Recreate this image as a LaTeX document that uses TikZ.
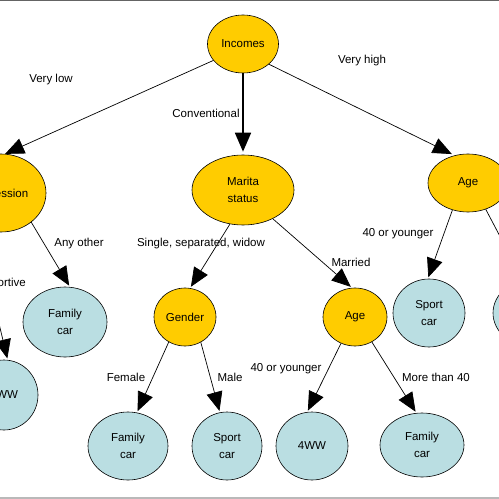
\documentclass[tikz,border=0pt]{standalone}
\usepackage{fontspec}
\setmainfont{Liberation Sans}
\usetikzlibrary{shapes.geometric,arrows.meta}
\definecolor{decision}{RGB}{255,204,0}
\definecolor{leafblue}{RGB}{186,222,226}
\definecolor{frametop}{RGB}{100,100,100}
\definecolor{framebot}{RGB}{185,185,185}
\begin{document}
\begin{tikzpicture}[x=1bp,y=-1bp,
  font=\fontsize{11.5bp}{17bp}\selectfont,
  base/.style={ellipse,draw=black,line width=0.6bp,inner sep=0pt,align=center},
  test/.style={base,fill=decision},
  leaf/.style={base,fill=leafblue},
  branch/.style={draw=black,line width=0.7bp,-{Triangle[length=19bp,width=16bp]},shorten >=1.5bp},
  lbl/.style={anchor=base,inner sep=0pt}]
\useasboundingbox (0,0) rectangle (499,499);
% frame lines
\draw[frametop,line width=1.2bp] (0,0.6) -- (499,0.6);
\draw[framebot,line width=1.2bp] (0,498) -- (499,498);

% decision nodes
\node[test,minimum width=71bp,minimum height=58bp] (inc) at (243,44) {Incomes};
\node[test,minimum width=90bp,minimum height=78bp] (prof) at (1,193) {Profession};
\node[test,minimum width=102bp,minimum height=70bp] (mar) at (243,190) {Marita\\status};
\node[test,minimum width=80bp,minimum height=58bp] (ager) at (468,183) {Age};
\node[test,minimum width=62bp,minimum height=58bp] (gen) at (185,317) {Gender};
\node[test,minimum width=64bp,minimum height=58bp] (agem) at (355,317) {Age};

% leaves
\node[leaf,minimum width=84bp,minimum height=70bp] (fc1) at (65,322) {Family\\car};
\node[leaf,minimum width=68bp,minimum height=70bp] (ww1) at (4,395) {4WW};
\node[leaf,minimum width=72bp,minimum height=68bp] (sc1) at (429,313) {Sport\\car};
\node[leaf,minimum width=80bp,minimum height=68bp] (fcr) at (533,313) {Family\\car};
\node[leaf,minimum width=80bp,minimum height=68bp] (fc2) at (128,446) {Family\\car};
\node[leaf,minimum width=70bp,minimum height=68bp] (sc2) at (227,446) {Sport\\car};
\node[leaf,minimum width=72bp,minimum height=68bp] (ww2) at (312,446) {4WW};
\node[leaf,minimum width=84bp,minimum height=64bp] (fc3) at (422,445) {Family\\car};

% branches
\draw[branch,shorten >=0pt] (inc.209) -- (prof.84);
\draw[branch,line width=1.8bp,shorten >=3bp] (inc.south) -- (mar.north);
\draw[branch,shorten >=3bp] (inc.322) -- (ager.116);
\draw[branch] (prof.316) -- (fc1.82);
\draw[branch] (prof.232) -- (ww1.84);
\draw[branch] (mar.249) -- (gen.80);
\draw[branch] (mar.316) -- (agem.96);
\draw[branch] (ager.240) -- (sc1.92);
\draw[branch] (ager.304) -- (fcr.107);
\draw[branch] (gen.237) -- (fc2.75);
\draw[branch] (gen.302) -- (sc2.102);
\draw[branch] (agem.242) -- (ww2.98);
\draw[branch] (agem.304) -- (fc3.100);

% branch labels
\node[lbl] (l1) at (51,83) {Very low};
\node[lbl] (l2) at (206,118) {Conventional};
\node[lbl] (l3) at (362,64) {Very high};
\node[lbl] (l4) at (79,246) {Any other};
\node[lbl,anchor=base east] (l5) at (26,286) {Sportive};
\node[lbl] (l6) at (201,246) {Single, separated, widow};
\node[lbl] (l7) at (351,266) {Married};
\node[lbl] (l8) at (398,236) {40 or younger};
\node[lbl] (l9) at (126,381) {Female};
\node[lbl] (l10) at (230,381) {Male};
\node[lbl] (l11) at (286,371) {40 or younger};
\node[lbl] (l12) at (436,381) {More than 40};
\end{tikzpicture}
\end{document}
